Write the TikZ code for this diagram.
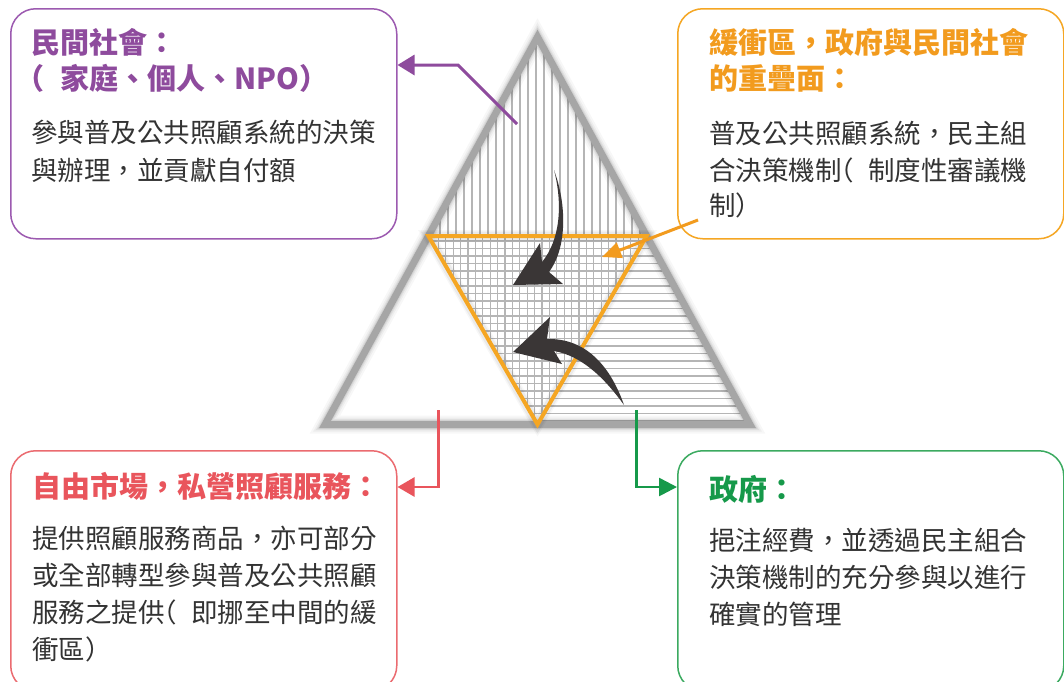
\documentclass[tikz,border=0pt]{standalone}
\usepackage{fontspec}
\newfontfamily\cjk{Noto Sans CJK TC}
\usetikzlibrary{arrows.meta}
\definecolor{pcol}{HTML}{8E4B9D}
\definecolor{pline}{HTML}{9C5AB0}
\definecolor{ocol}{HTML}{F29B1E}
\definecolor{oline}{HTML}{F5A623}
\definecolor{rcol}{HTML}{E9555C}
\definecolor{rline}{HTML}{EB6B70}
\definecolor{gcol}{HTML}{16994A}
\definecolor{gline}{HTML}{3BAA60}
\definecolor{bodygray}{HTML}{333333}
\definecolor{trigray}{HTML}{A6A6A6}
\definecolor{hatchgray}{HTML}{B5B5B5}
\definecolor{darkarrow}{HTML}{3A3636}
\newcommand\opar{\makebox[1em][l]{\hspace{-0.55em}（}}
\tikzset{
  infobox/.style={draw, line width=1.5pt, rounded corners=25pt, anchor=north west,
    minimum width=386pt, inner sep=0pt},
  ttl/.style={anchor=base west, inner sep=0pt, font=\cjk\bfseries\fontsize{29}{29}\selectfont},
  bdy/.style={anchor=base west, inner sep=0pt, text=bodygray, font=\cjk\fontsize{26.5}{26.5}\selectfont},
  hatchline/.style={draw=hatchgray, line width=1.3pt},
  connector/.style={line width=2.6pt},
}
\begin{document}
\begin{tikzpicture}[x=1pt,y=-1pt]
\useasboundingbox (0,0) rectangle (1064,681);
\fill[white] (0,0) rectangle (1064,681);

% triangle geometry
\coordinate (apex) at (537.5,37);
\coordinate (bl) at (325,424.5);
\coordinate (br) at (750,424.5);
\coordinate (ml) at (428.4,236);
\coordinate (mr) at (646.6,236);
\coordinate (bot) at (537.5,424.5);

% hatching
\begin{scope}
  \clip (apex) -- (ml) -- (mr) -- cycle;
  \foreach \x in {432,440,...,648} \draw[hatchline] (\x,30) -- (\x,240);
\end{scope}
\begin{scope}
  \clip (ml) -- (mr) -- (bot) -- cycle;
  \foreach \x in {431,438.4,...,650} \draw[hatchline] (\x,230) -- (\x,430);
\end{scope}
\begin{scope}
  \clip (ml) -- (mr) -- (br) -- (bot) -- cycle;
  \foreach \y in {241,248.5,...,425} \draw[hatchline] (420,\y) -- (760,\y);
\end{scope}

% soft shadow of big triangle
\foreach \w/\o in {18/0.03,14/0.04,11/0.05,9/0.06}
  \draw[line width=\w pt, black, opacity=\o, line join=miter, shift={(4,4)}] (apex) -- (bl) -- (br) -- cycle;
\draw[line width=7pt, trigray, line join=miter] (apex) -- (bl) -- (br) -- cycle;

% orange overlap triangle
\foreach \w/\o in {12/0.03,9/0.05}
  \draw[line width=\w pt, black, opacity=\o, line join=miter, shift={(0,4)}] (ml) -- (mr) -- (bot) -- cycle;
\draw[line width=4pt, oline, line join=miter] (ml) -- (mr) -- (bot) -- cycle;

% dark curved arrows
\fill[darkarrow] (554,170) .. controls (563,205) and (560,240) .. (542,262) -- (540,243) -- (513,285)
  -- (563,284) -- (549,272) .. controls (567,248) and (567,205) .. (554,170) -- cycle;
\fill[darkarrow] (624,405) .. controls (610,365) and (585,338) .. (547,339) -- (550,317) -- (513,352)
  -- (562,364) -- (554,351) .. controls (583,356) and (606,380) .. (624,405) -- cycle;

% boxes
\node[infobox, draw=pline, minimum height=230pt] (pbox) at (10,8) {};
\node[infobox, draw=oline, minimum height=230pt] (obox) at (677,8) {};
\node[infobox, draw=rline, minimum height=240pt] (rbox) at (10,450) {};
\node[infobox, draw=gline, minimum height=240pt] (gbox) at (677,450) {};

% connectors
\coordinate (pA) at (517,124);
\coordinate (pB) at (458,65);
\draw[connector, pcol, line width=3pt, -{Triangle[length=17pt,width=20pt]}] (pA) -- (pB) -- (pB -| pbox.east);
\coordinate (oA) at (698,220);
\coordinate (oB) at (602,257);
\draw[connector, ocol, line width=3pt, -{Triangle[length=19pt,width=16pt]}] (oA) -- (oB);
\coordinate (rA) at (438.3,410);
\coordinate (rB) at (438.3,487);
\draw[connector, rcol, -{Triangle[length=17pt,width=19pt]}] (rA) -- (rB) -- (rB -| rbox.east);
\coordinate (gA) at (636.5,410);
\coordinate (gB) at (636.5,487);
\draw[connector, gcol, -{Triangle[length=18pt,width=18pt]}] (gA) -- (gB) -- (gB -| gbox.west);

% texts: civil society
\node[ttl, text=pcol] (p1) at (31,53) {民間社會：};
\node[ttl, text=pcol] (p2) at (31,89.5) {\opar 家庭、個人、NPO）};
\node[bdy] (p3) at (31,142.5) {參與普及公共照顧系統的決策};
\node[bdy] (p4) at (31,180) {與辦理，並貢獻自付額};

% buffer zone
\node[ttl, text=ocol] (o1) at (709,53) {緩衝區，政府與民間社會};
\node[ttl, text=ocol] (o2) at (709,89) {的重疊面：};
\node[bdy] (o3) at (709,143.5) {普及公共照顧系統，民主組};
\node[bdy] (o4) at (709,180) {合決策機制\opar 制度性審議機};
\node[bdy] (o5) at (709,215) {制）};

% market
\node[ttl, text=rcol] (r1) at (32,497) {自由市場，私營照顧服務：};
\node[bdy] (r2) at (32,548.5) {提供照顧服務商品，亦可部分};
\node[bdy] (r3) at (32,585.5) {或全部轉型參與普及公共照顧};
\node[bdy] (r4) at (32,622.5) {服務之提供\opar 即挪至中間的緩};
\node[bdy] (r5) at (32,659.5) {衝區）};

% government
\node[ttl, text=gcol] (g1) at (709,500) {政府：};
\node[bdy] (g2) at (709,550.5) {挹注經費，並透過民主組合};
\node[bdy] (g3) at (709,587.5) {決策機制的充分參與以進行};
\node[bdy] (g4) at (709,624) {確實的管理};
\end{tikzpicture}
\end{document}
